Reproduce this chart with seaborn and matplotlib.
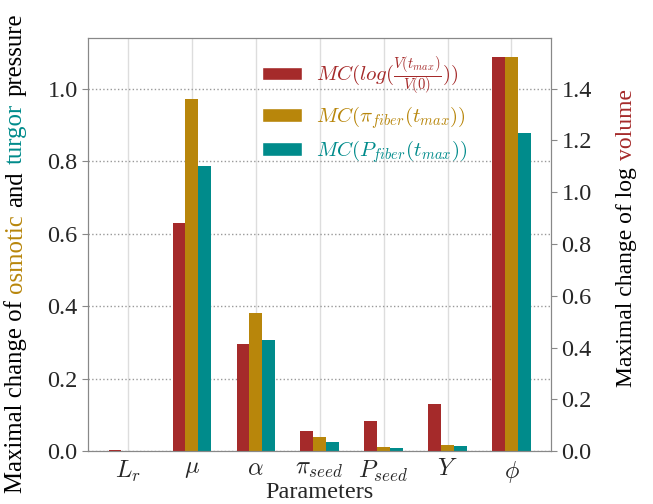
import numpy as np
import pandas as pd
import matplotlib
matplotlib.use('Agg')
import matplotlib.pyplot as plt
import seaborn as sns
from matplotlib.patches import Patch

# data
params = [r'$L_r$', r'$\mu$', r'$\alpha$', r'$\pi_{seed}$', r'$P_{seed}$', r'$Y$', r'$\phi$']
mc_logvol = [0.003, 0.88, 0.415, 0.079, 0.116, 0.18, 1.52]       # right axis
mc_osmotic = [0.0, 0.971, 0.380, 0.038, 0.0125, 0.018, 1.086]    # left axis
mc_turgor = [0.0, 0.786, 0.3075, 0.024, 0.008, 0.0145, 0.878]    # left axis

series = [r'$MC(log(\frac{V(t_{max})}{V(0)}))$',
          r'$MC(\pi_{fiber}(t_{max}))$',
          r'$MC(P_{fiber}(t_{max}))$']
colors = ['#A52A2A', '#B8860B', '#008B8B']
pal = dict(zip(series, colors))

sns.set_style('white')
plt.rcParams['font.family'] = 'serif'
plt.rcParams['font.serif'] = ['Liberation Serif', 'DejaVu Serif']
plt.rcParams['mathtext.fontset'] = 'cm'

vol_df = pd.DataFrame({'param': params, 'value': mc_logvol, 'series': series[0]})
pres_df = pd.concat([
    pd.DataFrame({'param': params, 'value': mc_osmotic, 'series': series[1]}),
    pd.DataFrame({'param': params, 'value': mc_turgor, 'series': series[2]}),
])

fig = plt.figure(figsize=(6.53, 5.04), dpi=100)
ax1 = fig.add_axes([0.135, 0.105, 0.709, 0.82])

sns.barplot(data=pres_df, x='param', y='value', hue='series', order=params,
            hue_order=series, palette=pal, width=0.6, gap=0, saturation=1,
            dodge=True, linewidth=0, legend=False, ax=ax1)
ax2 = ax1.twinx()
sns.barplot(data=vol_df, x='param', y='value', hue='series', order=params,
            hue_order=series, palette=pal, width=0.6, gap=0, saturation=1,
            dodge=True, linewidth=0, legend=False, ax=ax2)

ax1.set_xlim(-0.62, 6.62)
ax1.set_ylim(0, max(mc_osmotic) * 1.05)
ax2.set_ylim(0, max(mc_logvol) * 1.05)
ax1.set_yticks(np.arange(0, 1.01, 0.2))
ax2.set_yticks(np.arange(0, 1.41, 0.2))

ax1.set_axisbelow(True)
ax1.yaxis.grid(True, ls=':', color='#999999', lw=1)
ax1.xaxis.grid(True, ls='-', color='#dddddd', lw=1)

for ax in (ax1, ax2):
    for sp in ax.spines.values():
        sp.set_color('#888888')
    ax.tick_params(labelsize=17.5, length=4, color='#888888', direction='out')
    ax.set_ylabel('')
ax1.tick_params(axis='x', labelsize=17.5, pad=1.5)
ax1.set_xlabel('Parameters', fontsize=17.5, labelpad=-2)

handles = [Patch(facecolor=c) for c in colors]
leg = ax2.legend(handles, series, loc='upper left', bbox_to_anchor=(0.335, 1.005),
                 frameon=False, fontsize=15, handlelength=1.9, handleheight=0.62,
                 handletextpad=0.7, labelspacing=0.35)
for t, c in zip(leg.get_texts(), colors):
    t.set_color(c)


def stacked_label(x, yc, parts, size=17):
    # vertical label made of coloured words, laid end to end
    r = fig.canvas.get_renderer()
    gap = 0.3 * size / 72 * fig.dpi / fig.bbox.height
    texts = []
    total = 0
    for s, c in parts:
        t = fig.text(x, 0, s, color=c, rotation=90, ha='center', va='bottom', fontsize=size)
        h = t.get_window_extent(r).height / fig.bbox.height
        texts.append((t, h))
        total += h + gap
    total -= gap
    y = yc - total / 2
    for t, h in texts:
        t.set_y(y)
        y += h + gap


stacked_label(0.024, 0.497, [('Maximal change of', 'black'), ('osmotic', colors[1]),
                             ('and', 'black'), ('turgor', colors[2]), ('pressure', 'black')],
              size=17.8)
stacked_label(0.959, 0.528, [('Maximal change of log', 'black'), ('volume', colors[0])])

plt.savefig('out.png', dpi=100)
